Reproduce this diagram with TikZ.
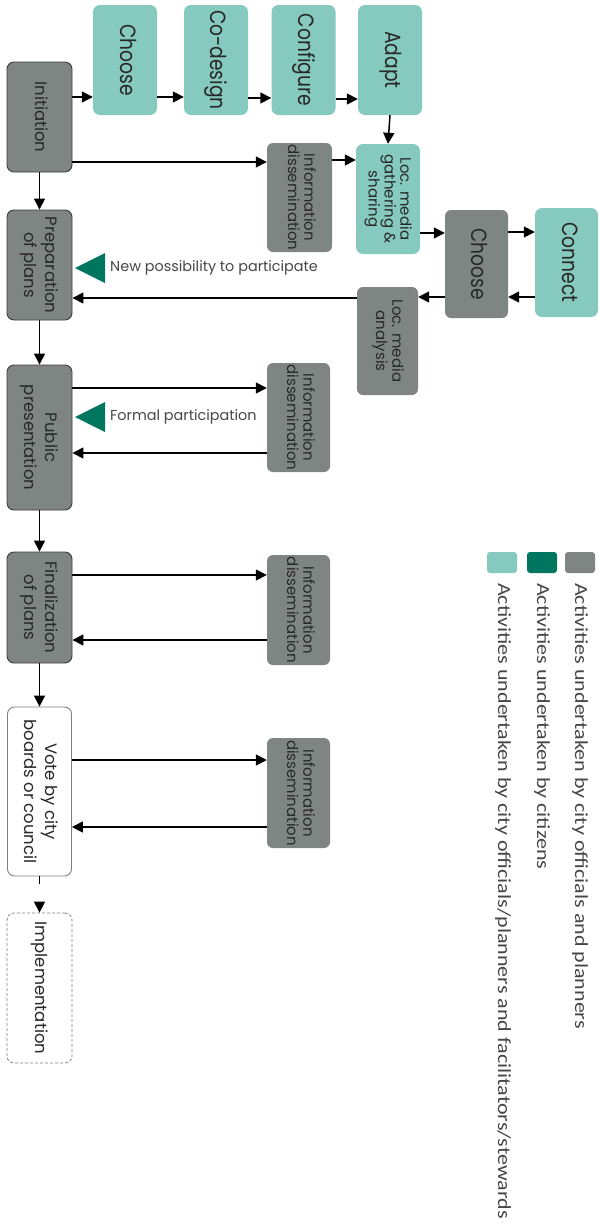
\documentclass[tikz,border=0pt]{standalone}
\usepackage{fontspec}
\setmainfont{Poppins}
\newfontfamily\legendfont{Carlito}
\usetikzlibrary{arrows.meta}

\definecolor{citizenfill}{RGB}{134,201,190}
\definecolor{officialfill}{RGB}{127,133,131}
\definecolor{markgreen}{RGB}{0,118,96}
\definecolor{boxedge}{RGB}{60,60,60}
\definecolor{inktext}{RGB}{40,40,40}
\definecolor{legendtext}{RGB}{70,70,70}

% vertical (top-to-bottom) label: font size, line distance, squeeze along the line, lines
\newcommand{\vlab}[4]{\rotatebox{-90}{\scalebox{#3}[1]{\fontsize{#1}{#2}\selectfont\begin{tabular}{@{}c@{}}#4\end{tabular}}}}

\tikzset{
  sz/.style 2 args={minimum width=#1pt, minimum height=#2pt},
  flowbox/.style={draw=boxedge, line width=0.9pt, fill=officialfill, rounded corners=7pt, inner sep=0pt, text=inktext},
  citizenbox/.style={fill=citizenfill, rounded corners=7pt, inner sep=0pt, text=inktext},
  officialbox/.style={fill=officialfill, rounded corners=6pt, inner sep=0pt, text=inktext},
  arr/.style={-{Triangle[length=11pt,width=11pt]}, line width=1.5pt, black},
  note/.style={anchor=west, inner sep=0pt, text=legendtext, font=\fontsize{14.4}{14.4}\selectfont},
  legendlab/.style={rotate=-90, anchor=west, inner sep=0pt, text=legendtext, font=\legendfont\fontsize{18.5}{18.5}\selectfont},
}
\newcommand{\legstretch}[1]{\scalebox{1.19}[1]{#1}}

\begin{document}
\begin{tikzpicture}[x=1pt, y=-1pt]
\useasboundingbox (0,0) rectangle (599,1224);

% main process column
\node[flowbox, sz={65}{110}] (init) at (39.5,117) {\vlab{16.5}{21}{1}{Initiation}};
\node[flowbox, sz={65}{110}] (prep) at (39.5,265) {\vlab{16.5}{21}{1}{Preparation\\of plans}};
\node[flowbox, sz={65}{145}] (pub)  at (39.5,437.5) {\vlab{16.5}{21}{1}{Public\\presentation}};
\node[flowbox, sz={65}{111}] (fin)  at (39.5,607.5) {\vlab{16.5}{21}{1}{Finalization\\of plans}};
\node[flowbox, fill=white, draw=gray, sz={64}{169}] (vote) at (39.5,791.5) {\vlab{16.5}{21}{1}{Vote by city\\boards or council}};
\node[flowbox, fill=white, draw=gray, densely dashed, line width=0.8pt, sz={65}{150}] (impl) at (39.5,988) {\vlab{16.5}{21}{1}{Implementation}};

% citizen activities at the top
\node[citizenbox, sz={64}{110}] (choosea) at (125,60) {\vlab{22}{22}{0.85}{Choose}};
\node[citizenbox, sz={64}{110}] (codesign) at (216,60) {\vlab{22}{22}{0.85}{Co-design}};
\node[citizenbox, sz={64}{110}] (configure) at (303.5,60) {\vlab{22}{22}{0.85}{Configure}};
\node[citizenbox, sz={64}{110}] (adapt) at (390,60) {\vlab{22}{22}{0.85}{Adapt}};

% local media branch
\node[officialbox, sz={65}{109}] (infoa) at (299.5,197.5) {\vlab{15}{16}{1}{Information\\dissemination}};
\node[citizenbox, sz={64}{110}] (locgather) at (388,199) {\vlab{15}{15}{1}{Loc. media\\gathering \&\\sharing}};
\node[officialbox, sz={63}{108}] (chooseb) at (476.5,264) {\vlab{22}{22}{0.85}{Choose}};
\node[citizenbox, sz={63}{109}] (connect) at (566.5,262.5) {\vlab{22}{22}{0.85}{Connect}};
\node[officialbox, sz={61}{108}] (locanalysis) at (387.5,341) {\vlab{15}{16}{1}{Loc. media\\analysis}};

% information dissemination steps
\node[officialbox, sz={63}{109}] (infob) at (298.5,417.5) {\vlab{15}{16}{1}{Information\\dissemination}};
\node[officialbox, sz={63}{110}] (infoc) at (298.5,610) {\vlab{15}{16}{1}{Information\\dissemination}};
\node[officialbox, sz={63}{110}] (infod) at (298.5,793) {\vlab{15}{16}{1}{Information\\dissemination}};

% connectors
\draw[arr] (init.east |- 0,97) -- (choosea.west |- 0,97);
\draw[arr] (choosea.east |- 0,97) -- (codesign.west |- 0,97);
\draw[arr] (codesign.east |- 0,98) -- (configure.west |- 0,98);
\draw[arr] (configure.east |- 0,99) -- (adapt.west |- 0,99);
\draw[arr] (adapt.south) -- (locgather.north);
\draw[arr] (init.east |- 0,162) -- (infoa.west |- 0,162);
\draw[arr] (infoa.east |- 0,160) -- (locgather.west |- 0,160);
\draw[arr] (locgather.east |- 0,233) -- (chooseb.west |- 0,233);
\draw[arr] (chooseb.east |- 0,232) -- (connect.west |- 0,232);
\draw[arr] (connect.west |- 0,297) -- (chooseb.east |- 0,297);
\draw[arr] (chooseb.west |- 0,297) -- (locanalysis.east |- 0,297);
\draw[arr] (locanalysis.west |- 0,298) -- (prep.east |- 0,298);

\draw[arr] (init.south) -- (prep.north);
\draw[arr] (prep.south) -- (pub.north);
\draw[arr] (pub.south) -- (fin.north);
\draw[arr] (fin.south) -- (vote.north);
\draw[arr, dash pattern=on 8pt off 30pt] (vote.south) -- (impl.north);

\draw[arr] (pub.east |- 0,388) -- (infob.west |- 0,388);
\draw[arr] (infob.west |- 0,453) -- (pub.east |- 0,453);
\draw[arr] (fin.east |- 0,575) -- (infoc.west |- 0,575);
\draw[arr] (infoc.west |- 0,640) -- (fin.east |- 0,640);
\draw[arr] (vote.east |- 0,760) -- (infod.west |- 0,760);
\draw[arr] (infod.west |- 0,827) -- (vote.east |- 0,827);

% participation markers
\fill[markgreen] (75,268) -- (105,253) -- (105,283) -- cycle;
\node[note] (newposs) at (110,268) {New possibility to participate};
\fill[markgreen] (75,417) -- (105,402) -- (105,432) -- cycle;
\node[note] (formal) at (110,417) {Formal participation};

% legend
\fill[citizenfill, rounded corners=3pt] (487,552) rectangle (517,573);
\fill[markgreen, rounded corners=3pt] (527,552) rectangle (557,573);
\fill[officialfill, rounded corners=3pt] (565,552) rectangle (595,573);
\node[legendlab] (lega) at (580,583) {\legstretch{Activities undertaken by city officials and planners}};
\node[legendlab] (legb) at (542,583) {\legstretch{Activities undertaken by citizens}};
\node[legendlab] (legc) at (503,583) {\legstretch{Activities undertaken by city officials/planners and facilitators/stewards}};
\end{tikzpicture}
\end{document}
